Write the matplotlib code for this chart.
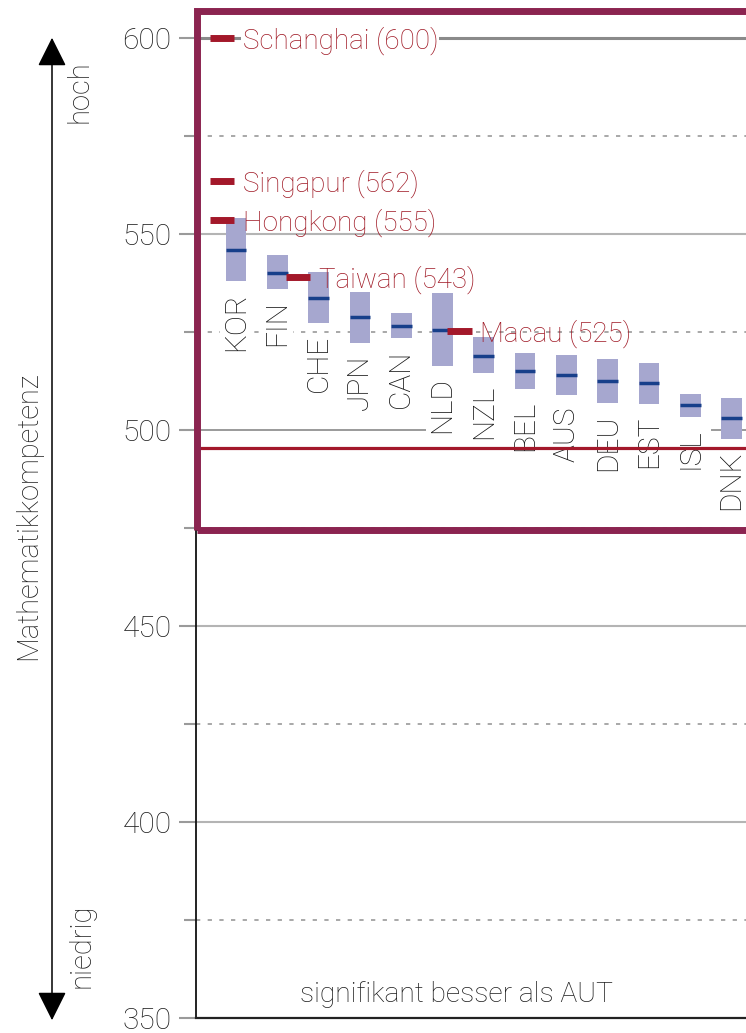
import matplotlib
matplotlib.use("Agg")
import matplotlib.pyplot as plt
from matplotlib.patches import Rectangle, FancyArrowPatch

# ---------------- data ----------------
countries = ["KOR", "FIN", "CHE", "JPN", "CAN", "NLD", "NZL", "BEL", "AUS", "DEU", "EST", "ISL", "DNK"]
means = [546, 540, 533.6, 528.7, 526.5, 525.5, 519, 515, 514, 512.5, 512, 506.3, 503]
ci_low = [538, 536, 527.2, 522.1, 523.5, 516.3, 514.5, 510.5, 509, 506.8, 506.6, 503.4, 497.7]
ci_high = [554, 544.6, 540.4, 535.3, 529.8, 534.9, 523.7, 519.7, 519.1, 518.2, 517.0, 509.1, 508.2]

partner_names = ["Schanghai (600)", "Singapur (562)", "Hongkong (555)", "Taiwan (543)", "Macau (525)"]
partner_values = [600, 563.5, 553.5, 539, 525.2]
partner_pos = [-0.34, -0.34, -0.34, 1.5, 5.41]

aut_value = 495.5
yticks_major = [350, 400, 450, 500, 550, 600]
yticks_minor = [375, 425, 475, 525, 575]

# ---------------- style ----------------
FONT = "Roboto"
WEIGHT = "light"
plt.rcParams["font.family"] = [FONT, "DejaVu Sans"]
plt.rcParams["font.weight"] = WEIGHT

W, H = 746, 1033
fig = plt.figure(figsize=(W / 100, H / 100), dpi=100)

ax_left_px = 195.5
ax_bottom_px = 15
ax = fig.add_axes([ax_left_px / W, ax_bottom_px / H, (W - ax_left_px) / W, (H - ax_bottom_px) / H])
ppu = 3.92  # pixels per score unit
ax.set_ylim(350, 350 + (H - ax_bottom_px) / ppu)
spacing = 41.3
x0_px = 236
ax.set_xlim(-(x0_px - ax_left_px) / spacing, (W - x0_px) / spacing)

for s in ["top", "right"]:
    ax.spines[s].set_visible(False)
ax.spines["left"].set_color("#111111")
ax.spines["left"].set_linewidth(1.3)
ax.spines["left"].set_bounds(350, 607)
ax.spines["bottom"].set_color("#222222")
ax.spines["bottom"].set_linewidth(1.6)

ax.set_xticks([])
ax.set_yticks(yticks_major)
ax.set_yticks(yticks_minor, minor=True)
ax.tick_params(axis="y", which="major", length=12.2, width=1.5, color="#9a9a9a",
               labelsize=21.5, labelcolor="#1e1e1e", pad=5.0)
ax.tick_params(axis="y", which="minor", length=8.6, width=1.5, color="#9a9a9a")
for lab in ax.get_yticklabels():
    lab.set_fontweight(WEIGHT)

# grid lines
for v in yticks_major:
    if v == 350:
        continue
    if v == 600:
        ax.axhline(v, color="#8a8a8a", lw=2.2, zorder=0)
    elif v == 500:
        ax.axhline(v, xmin=0, xmax=(428 - ax_left_px) / (W - ax_left_px), color="#9a9a9a", lw=1.4, zorder=0)
        ax.axhline(v, xmin=(712 - ax_left_px) / (W - ax_left_px), xmax=1, color="#9a9a9a", lw=1.4, zorder=0)
    else:
        ax.axhline(v, color="#b4b4b4", lw=1.5, zorder=0)
for v in yticks_minor:
    ax.axhline(v, color="#a8a8a8", lw=1.4, ls=(0, (2.2, 3.8)), zorder=0)

# boxes and means
xs = list(range(len(countries)))
heights = [h - l for h, l in zip(ci_high, ci_low)]
ax.bar(xs, heights, bottom=ci_low, width=0.5, color="#a6a7cf", zorder=2, linewidth=0)
ax.hlines(means, [x - 0.25 for x in xs], [x + 0.25 for x in xs], color="#173f8a", lw=2.5, zorder=3)

for x, lo, name in zip(xs, ci_low, countries):
    ax.text(x, lo - 2.9, name, rotation=90, ha="center", va="top", fontsize=21.5,
            color="#151515", fontweight=WEIGHT, zorder=2,
            bbox=dict(facecolor="white", edgecolor="none", pad=1.5))

# AUT line
ax.axhline(aut_value, color="#a3182a", lw=2.3, zorder=4)

# partner countries
red = "#a3182a"
for name, val, px in zip(partner_names, partner_values, partner_pos):
    ax.hlines(val, px - 0.3, px + 0.3, color=red, lw=5, zorder=6)
    bb = dict(facecolor="white", edgecolor="none", pad=1.0) if name.startswith("Schanghai") else None
    ax.text(px + 0.5, val - 0.6, name, ha="left", va="center", fontsize=20,
            color="#a01a26", fontweight=WEIGHT, zorder=5, bbox=bb)

# highlight rectangle
rect_left = (196.7 - x0_px) / spacing
rect = Rectangle((rect_left, 474.6), 20, 606.9 - 474.6, fill=False,
                 edgecolor="#8b2450", lw=5, zorder=7, clip_on=False)
ax.add_patch(rect)

# bottom caption
ax.text(456.7 / W, 1 - 995 / H, "signifikant besser als AUT", transform=fig.transFigure,
        ha="center", va="center", fontsize=20.3, color="#1e1e1e", fontweight=WEIGHT)

# left arrow + texts
arrow = FancyArrowPatch((52 / W, 1 - 1023 / H), (52 / W, 1 - 35 / H), transform=fig.transFigure,
                        arrowstyle="<|-|>,head_length=1.0,head_width=0.5", mutation_scale=18,
                        color="black", lw=1.1)
fig.patches.append(arrow)
fig.text(80 / W, 1 - 60 / H, "hoch", rotation=90, ha="center", va="top", fontsize=21,
         color="#1e1e1e", fontweight=WEIGHT)
fig.text(82 / W, 1 - 988 / H, "niedrig", rotation=90, ha="center", va="bottom", fontsize=21,
         color="#1e1e1e", fontweight=WEIGHT)
fig.text(28 / W, 1 - 516 / H, "Mathematikkompetenz", rotation=90, ha="center", va="center",
         fontsize=20.8, color="#1e1e1e", fontweight=WEIGHT)

fig.savefig("out.png", dpi=100)
